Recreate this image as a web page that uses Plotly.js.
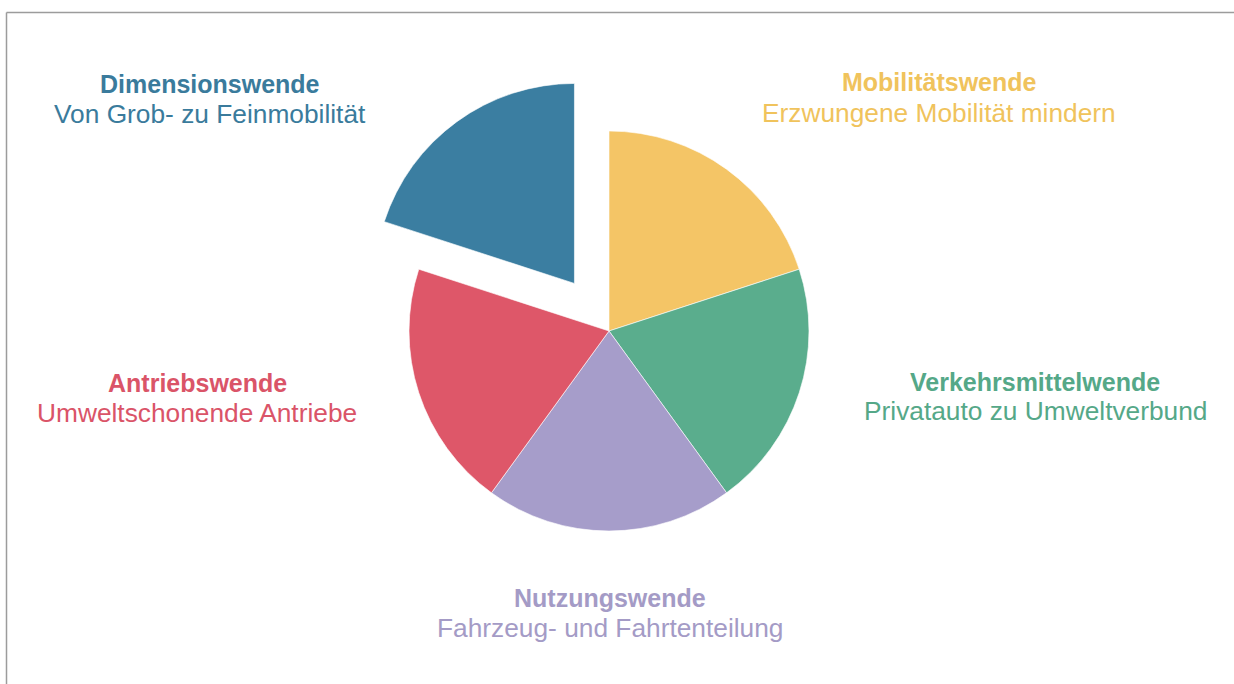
<!DOCTYPE html>
<html>
<head>
<meta charset="utf-8">
<script src="https://cdn.plot.ly/plotly-3.0.1.min.js"></script>
<style>
  html, body { margin: 0; padding: 0; background: #ffffff; }
  #chart { width: 1234px; height: 684px; }
</style>
</head>
<body>
<div id="chart"></div>
<script>
// ---- data ----
const categories = ["Mobilitätswende", "Verkehrsmittelwende", "Nutzungswende", "Antriebswende", "Dimensionswende"];
const subtitles = ["Erzwungene Mobilität mindern", "Privatauto zu Umweltverbund", "Fahrzeug- und Fahrtenteilung", "Umweltschonende Antriebe", "Von Grob- zu Feinmobilität"];
const values = [1, 1, 1, 1, 1];
const pulls = [0, 0, 0, 0, 0.294];

// ---- styles / layout ----
const colors = ["#F4C566", "#5AAD8D", "#A69DCA", "#DE5769", "#3B7EA1"];
const textColors = ["#F0C35C", "#55A888", "#A49BC6", "#DA5468", "#3A7B9C"];
const labelPos = [ // paper-pixel centers of the two label lines
  {x: 939, y1: 82.5, y2: 112.5},
  {x: 1035, y1: 381.5, y2: 411},
  {x: 610, y1: 597.5, y2: 627.5},
  {x: 197, y1: 382.5, y2: 412.5},
  {x: 210, y1: 84, y2: 114}
];
const W = 1234, H = 684;
const cx = 609, cy = 331, r = 200;
const box = r * (1 + Math.max(...pulls));
const FONT = "Liberation Sans, Arial, Helvetica, sans-serif";

const trace = {
  type: "pie",
  labels: categories,
  values: values,
  pull: pulls,
  sort: false,
  direction: "clockwise",
  rotation: 0,
  textinfo: "none",
  hoverinfo: "label",
  marker: { colors: colors, line: { color: "#ffffff", width: 0.6 } },
  domain: {
    x: [(cx - box) / W, (cx + box) / W],
    y: [1 - (cy + box) / H, 1 - (cy - box) / H]
  }
};

const annotations = [];
categories.forEach((c, i) => {
  const p = labelPos[i];
  annotations.push({
    xref: "paper", yref: "paper", x: p.x / W, y: 1 - p.y1 / H,
    xanchor: "center", yanchor: "middle", showarrow: false, borderpad: 0,
    text: "<b>" + c + "</b>",
    font: { family: FONT, size: 25, color: textColors[i] }
  });
  annotations.push({
    xref: "paper", yref: "paper", x: p.x / W, y: 1 - p.y2 / H,
    xanchor: "center", yanchor: "middle", showarrow: false, borderpad: 0,
    text: subtitles[i],
    font: { family: FONT, size: 26.3, color: textColors[i] }
  });
});

const layout = {
  width: W, height: H,
  margin: { l: 0, r: 0, t: 0, b: 0 },
  paper_bgcolor: "#ffffff",
  showlegend: false,
  annotations: annotations,
  shapes: [
    { type: "line", xref: "paper", yref: "paper", x0: 6.5 / W, x1: 1, y0: 1 - 12.5 / H, y1: 1 - 12.5 / H, line: { color: "#9c9c9c", width: 1.5 } },
    { type: "line", xref: "paper", yref: "paper", x0: 6.5 / W, x1: 6.5 / W, y0: 0, y1: 1 - 12.5 / H, line: { color: "#9c9c9c", width: 1.5 } }
  ]
};

Plotly.newPlot("chart", [trace], layout, { displayModeBar: false, staticPlot: true });
</script>
</body>
</html>
